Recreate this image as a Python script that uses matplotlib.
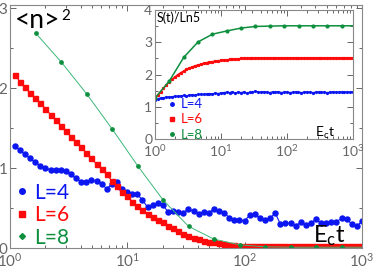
import numpy as np
import matplotlib
matplotlib.use("Agg")
import matplotlib.pyplot as plt
from matplotlib.lines import Line2D
from matplotlib.ticker import LogLocator, MultipleLocator, NullFormatter

plt.rcParams['font.family'] = ['Lato', 'DejaVu Sans']
plt.rcParams['mathtext.fontset'] = 'custom'
plt.rcParams['mathtext.rm'] = 'Lato'
plt.rcParams['mathtext.it'] = 'Lato:italic'
plt.rcParams['mathtext.bf'] = 'Lato:bold'

# --- data ---------------------------------------------------------------
# time grid of the L=4 / L=6 runs (geometric sampling) and of the L=8 run
t_dense = np.geomspace(1.1, 1000, 69)
t_green = 1.65 ** np.arange(1, 15)

n2_L4 = [1.28, 1.22, 1.17, 1.12, 1.07, 1.03, 1.00, 0.98, 0.98, 0.97, 0.96, 0.92,
         0.87, 0.83, 0.83, 0.85, 0.84, 0.80, 0.74, 0.80, 0.83, 0.74, 0.70,
         0.67, 0.67, 0.60, 0.51, 0.54, 0.56, 0.54, 0.45, 0.46, 0.45, 0.44, 0.49,
         0.46, 0.43, 0.45, 0.44, 0.49, 0.46, 0.44, 0.38, 0.35, 0.35, 0.34,
         0.41, 0.42, 0.37, 0.35, 0.37, 0.44, 0.30, 0.31, 0.31, 0.28, 0.32, 0.29,
         0.31, 0.36, 0.31, 0.31, 0.32, 0.33, 0.37, 0.36, 0.30, 0.27, 0.34]
n2_L6 = [2.17, 2.08, 2.01, 1.94, 1.88, 1.81, 1.74, 1.67, 1.60, 1.53, 1.46, 1.39,
         1.32, 1.26, 1.19, 1.12, 1.05, 0.99, 0.92, 0.84, 0.77, 0.70, 0.65,
         0.58, 0.53, 0.47, 0.43, 0.39, 0.35, 0.32, 0.27, 0.25, 0.21, 0.18, 0.15,
         0.13, 0.11, 0.09, 0.08, 0.07, 0.06, 0.05, 0.04, 0.035, 0.03, 0.025,
         0.022, 0.021, 0.02, 0.02, 0.02, 0.02, 0.02, 0.02, 0.02, 0.02, 0.02, 0.02,
         0.02, 0.02, 0.02, 0.02, 0.02, 0.02, 0.02, 0.02, 0.02, 0.02, 0.02]
n2_L8 = [2.69, 2.33, 1.93, 1.49, 1.03, 0.60, 0.27, 0.11, 0.04, 0.015, 0.01, 0.01,
         0.01, 0.01]

# inset: entropy, starts at t = 1
t_dense_in = np.concatenate([[1.0], t_dense])
t_green_in = np.concatenate([[1.0], t_green])

S_L4 = [1.22, 1.25, 1.27, 1.28, 1.30, 1.30, 1.31, 1.33, 1.32, 1.34, 1.35, 1.34,
        1.36, 1.37, 1.36, 1.38, 1.39, 1.38, 1.40, 1.41, 1.40, 1.42, 1.41, 1.43,
        1.44, 1.45, 1.44, 1.46, 1.43, 1.45, 1.44, 1.46, 1.42, 1.45, 1.46, 1.48,
        1.46, 1.45, 1.47, 1.45, 1.44, 1.46, 1.45, 1.47, 1.44, 1.45, 1.46, 1.44,
        1.45, 1.46, 1.45, 1.44, 1.45, 1.46, 1.45, 1.44, 1.45, 1.46, 1.45, 1.45,
        1.44, 1.45, 1.46, 1.45, 1.45, 1.46, 1.45, 1.46, 1.45, 1.45]
S_L6 = [1.27, 1.37, 1.47, 1.57, 1.67, 1.78, 1.86, 1.93, 2.00, 2.06, 2.11, 2.16,
        2.20, 2.24, 2.27, 2.30, 2.32, 2.35, 2.37, 2.39, 2.40, 2.42, 2.43, 2.44,
        2.45, 2.46, 2.47, 2.48, 2.48, 2.49, 2.50, 2.50, 2.51, 2.51, 2.51,
        2.52, 2.52, 2.52, 2.52, 2.52, 2.52, 2.52, 2.52, 2.52, 2.52, 2.52, 2.52,
        2.52, 2.52, 2.52, 2.52, 2.52, 2.52, 2.52, 2.52, 2.52, 2.52, 2.52, 2.52,
        2.52, 2.52, 2.52, 2.52, 2.52, 2.52, 2.52, 2.52, 2.52, 2.52, 2.52]
S_L8 = [1.27, 1.80, 2.53, 3.01, 3.25, 3.35, 3.44, 3.49, 3.50, 3.51, 3.51, 3.51,
        3.51, 3.51, 3.51]

labels = ["L=4", "L=6", "L=8"]
BLUE, RED, GREEN, GREEN_LINE = "#0b16f0", "#ff0a0a", "#0e8f3e", "#3cb878"
GREY = "#666666"


def style_axes(ax, fs, ymax, ymaj, ymin):
    ax.set_xscale("log")
    ax.set_xlim(1, 1000)
    ax.set_ylim(0, ymax)
    ax.yaxis.set_major_locator(MultipleLocator(ymaj))
    ax.yaxis.set_minor_locator(MultipleLocator(ymin))
    ax.xaxis.set_major_locator(LogLocator(base=10, numticks=10))
    ax.xaxis.set_minor_locator(LogLocator(base=10, subs=np.arange(2, 10), numticks=10))
    ax.xaxis.set_minor_formatter(NullFormatter())
    ax.tick_params(which="both", direction="in", top=True, right=True,
                   colors=GREY, labelsize=fs, width=0.7)
    ax.tick_params(which="major", length=4)
    ax.tick_params(which="minor", length=2.5)
    ax.tick_params(axis="y", pad=2)
    ax.tick_params(axis="x", pad=3)
    for sp in ax.spines.values():
        sp.set_color("#888888")
        sp.set_linewidth(0.8)


fig = plt.figure(figsize=(3.74, 2.66), dpi=100)
ax = fig.add_axes([10 / 374, 18 / 266, 352 / 374, 243 / 266])

ax.plot(t_dense, n2_L4, "-o", color=BLUE, lw=0.8, ms=3.6, mec=BLUE)
ax.plot(t_dense, n2_L6, "-s", color=RED, lw=0.8, ms=3.6, mec=RED)
ax.plot(t_green, n2_L8, "-", color=GREEN_LINE, lw=0.7)
ax.plot(t_green, n2_L8, "o", color=GREEN, ms=2.4, mec=GREEN)
style_axes(ax, 11, 3.04, 1, 0.5)

ax.text(0.014, 0.905, "<n>", transform=ax.transAxes,
        fontsize=19, va="baseline", ha="left")
ax.text(0.145, 0.94, "2", transform=ax.transAxes,
        fontsize=11, va="baseline", ha="left")
ax.text(0.862, 0.025, r"$\mathregular{E_ct}$", transform=ax.transAxes,
        fontsize=17, va="baseline", ha="left")

handles = [Line2D([], [], ls="none", marker="o", color=BLUE, ms=4),
           Line2D([], [], ls="none", marker="s", color=RED, ms=4),
           Line2D([], [], ls="none", marker="D", color=GREEN, ms=3)]
leg = ax.legend(handles, labels, loc="lower left", bbox_to_anchor=(-0.02, -0.05),
                frameon=False, fontsize=15, handlelength=0.6, handletextpad=0.3,
                labelspacing=0.12, borderaxespad=0.2,
                labelcolor=[BLUE, RED, GREEN])

# inset
axi = fig.add_axes([155 / 374, 127 / 266, 198 / 374, 129 / 266])
axi.set_facecolor("white")
axi.plot(t_dense_in, S_L4, "-o", color=BLUE, lw=0.9, ms=1.3)
axi.plot(t_dense_in, S_L6, "-s", color=RED, lw=0.9, ms=1.3)
axi.plot(t_green_in, S_L8, "-o", color=GREEN, lw=1.1, ms=2.0)
style_axes(axi, 10, 4, 1, 0.5)

axi.text(0.008, 0.985, "S(t)/Ln5", transform=axi.transAxes, fontsize=9,
         va="top", ha="left")
axi.text(0.81, 0.02, r"$\mathregular{E_ct}$", transform=axi.transAxes,
         fontsize=10, va="baseline", ha="left")
handles_i = [Line2D([], [], ls="none", marker="o", color=BLUE, ms=2.5),
             Line2D([], [], ls="none", marker="s", color=RED, ms=2.5),
             Line2D([], [], ls="none", marker="o", color=GREEN, ms=2.5)]
axi.legend(handles_i, labels, loc="lower left", bbox_to_anchor=(0.03, -0.075),
           frameon=False, fontsize=9.5, handlelength=0.5, handletextpad=0.4,
           labelspacing=0.25, borderaxespad=0.2,
           labelcolor=[BLUE, RED, GREEN])

fig.savefig("out.png", dpi=100, facecolor="white")
